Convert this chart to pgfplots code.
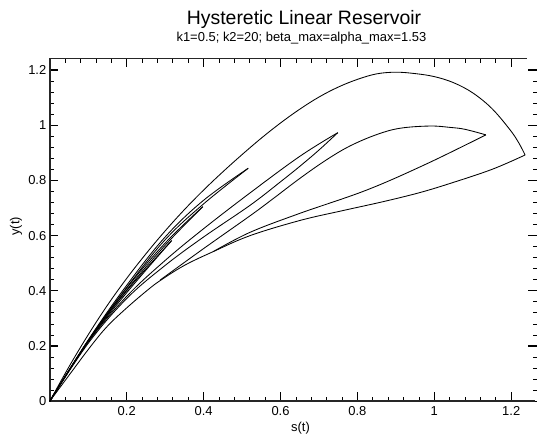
\documentclass[border=0pt]{standalone}
\usepackage{pgfplots}
\pgfplotsset{compat=1.18}
\usepackage{fontspec}
\setmainfont{Liberation Sans}
\begin{document}
\begin{tikzpicture}
\begin{axis}[
  scale only axis, width=487.2bp, height=342.9bp,
  xmin=0, xmax=1.267, ymin=0, ymax=1.2424,
  clip=false,
  axis line style={draw=none},
  xtick={0,0.2,0.4,0.6,0.8,1,1.2},
  xticklabels={,0.2,0.4,0.6,0.8,1,1.2},
  ytick={0,0.2,0.4,0.6,0.8,1,1.2},
  yticklabels={0,0.2,0.4,0.6,0.8,1,1.2},
  minor x tick num=4, minor y tick num=4,
  tick align=inside,
  major tick length=8.7bp, minor tick length=4.3bp,
  every major tick/.style={black, line width=1.1bp},
  every minor tick/.style={black, line width=0.8bp},
  /pgf/number format/assume math mode=true,
  tick label style={font=\fontsize{13}{15}\selectfont},
  xticklabel style={yshift=-2bp},
  every axis plot/.append style={black, line width=0.85bp, mark=none},
]
\coordinate (o) at (rel axis cs:0,0);
\draw[line width=1.4bp, black!85] (rel axis cs:0.996,0) -- (rel axis cs:0,0) -- (rel axis cs:0,1) -- (rel axis cs:0.9795,1);

% outer loop: lower branch origin -> A
\addplot[smooth, tension=0.6] coordinates {(0,0) (0.05,0.094) (0.107,0.2) (0.15,0.272) (0.2,0.338) (0.252,0.40) (0.287,0.437) (0.35,0.492) (0.425,0.542) (0.521,0.600) (0.651,0.655) (0.76,0.69) (0.867,0.723) (0.96,0.755) (1.041,0.789) (1.15,0.84) (1.236,0.892)};
% outer loop: upper branch A -> origin
\addplot[smooth, tension=0.6] coordinates {(1.236,0.892) (1.22,0.935) (1.197,0.983) (1.15,1.06) (1.1,1.117) (1.05,1.154) (1.0,1.176) (0.95,1.187) (0.9,1.192) (0.85,1.186) (0.8,1.166) (0.75,1.138) (0.7,1.102) (0.65,1.058) (0.6,1.008) (0.55,0.953) (0.5,0.8935) (0.45,0.831) (0.4,0.765) (0.35,0.694) (0.3,0.617) (0.25,0.534) (0.2,0.445) (0.15,0.348) (0.1,0.241) (0.05,0.125) (0,0)};
% loop B
\addplot[smooth, tension=0.6] coordinates {(0.425,0.542) (0.521,0.612) (0.651,0.681) (0.824,0.765) (0.98,0.86) (1.134,0.965)};
\addplot[smooth, tension=0.6] coordinates {(1.134,0.965) (1.08,0.985) (1.041,0.992) (0.989,0.997) (0.911,0.989) (0.85,0.966) (0.781,0.925) (0.72,0.875) (0.651,0.808) (0.58,0.733) (0.521,0.672) (0.4,0.553) (0.287,0.439)};
% loop C
\addplot[smooth, tension=0.6] coordinates {(0,0) (0.1,0.215) (0.2,0.38) (0.3,0.51) (0.4,0.625) (0.521,0.755) (0.651,0.888) (0.749,0.973)};
\addplot[smooth, tension=0.6] coordinates {(0,0) (0.1,0.21) (0.2,0.372) (0.3,0.492) (0.4,0.595) (0.521,0.71) (0.6,0.795) (0.651,0.852) (0.7,0.91) (0.749,0.973)};
% loop D
\addplot[smooth, tension=0.6] coordinates {(0,0) (0.1,0.222) (0.2,0.42) (0.3,0.595) (0.4,0.728) (0.516,0.844)};
\addplot[smooth, tension=0.6] coordinates {(0,0) (0.1,0.22) (0.2,0.412) (0.3,0.585) (0.4,0.715) (0.516,0.844)};
% loop E
\addplot[smooth, tension=0.6] coordinates {(0,0) (0.1,0.22) (0.2,0.41) (0.3,0.573) (0.398,0.705)};
\addplot[smooth, tension=0.6] coordinates {(0,0) (0.1,0.218) (0.2,0.403) (0.3,0.565) (0.398,0.705)};
% loop F
\addplot[smooth, tension=0.6] coordinates {(0,0) (0.1,0.218) (0.2,0.4) (0.317,0.582)};
\addplot[smooth, tension=0.6] coordinates {(0,0) (0.1,0.216) (0.2,0.393) (0.317,0.582)};
\end{axis}
\node[anchor=base, font=\fontsize{19.5}{22}\selectfont] at ([shift={(254.2bp,376.2bp)}]o) {Hysteretic Linear Reservoir};
\node[anchor=base, font=\fontsize{13}{15}\selectfont] at ([shift={(251.7bp,359.7bp)}]o) {k1=0.5; k2=20; beta\_max=alpha\_max=1.53};
\node[anchor=base, font=\fontsize{13}{15}\selectfont] at ([shift={(250.7bp,-30.3bp)}]o) {s(t)};
\node[anchor=base, rotate=90, font=\fontsize{13}{15}\selectfont] at ([shift={(-30.5bp,175bp)}]o) {y(t)};
\pgfresetboundingbox
\path ([shift={(-49.8bp,-33.8bp)}]o) rectangle ([shift={(487.2bp,401.2bp)}]o);
\end{tikzpicture}
\end{document}
